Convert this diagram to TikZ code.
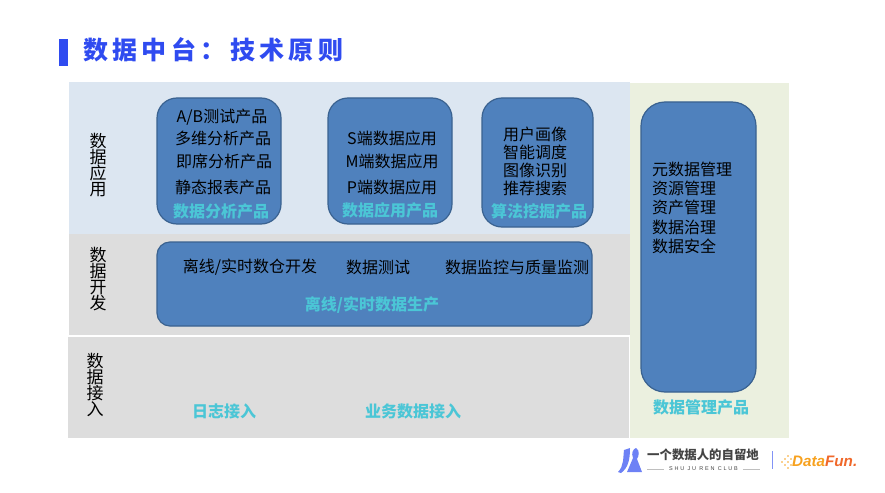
\documentclass[tikz,border=0pt]{standalone}
\usepackage{fontspec}
\setmainfont{Noto Sans CJK SC}
\newfontfamily\titlefont[LetterSpace=17.5]{Noto Sans CJK SC}
\newfontfamily\clubfont[LetterSpace=32]{Liberation Sans}
\newfontfamily\funfont{Liberation Sans}
\definecolor{barblue}{HTML}{2F4BF0}
\definecolor{panelblue}{HTML}{DCE6F1}
\definecolor{panelgray}{HTML}{DDDDDD}
\definecolor{panelgreen}{HTML}{EBF0DF}
\definecolor{boxblue}{HTML}{4F81BD}
\definecolor{boxedge}{HTML}{3A6290}
\definecolor{prodcyan}{HTML}{4BC6D6}
\definecolor{logogray}{HTML}{444444}
\definecolor{funorange}{HTML}{F7A11E}
\definecolor{funred}{HTML}{F0682A}
\tikzset{
	appbox/.style={draw=boxedge,line width=1.2pt,fill=boxblue},
	itemtext/.style={inner sep=0pt,text=black,font=\fontsize{16}{18}\selectfont},
	prodtext/.style={inner sep=0pt,text=prodcyan,font=\fontsize{16}{18}\selectfont\bfseries},
	sidetext/.style={inner sep=0pt,align=center,text=black,font=\fontsize{17}{16}\selectfont},
}
\begin{document}
\begin{tikzpicture}[x=1pt,y=-1pt]
		\useasboundingbox (0,0) rectangle (885,492);
		\fill[barblue] (59,39) rectangle (68,66);
		\node[inner sep=0pt,anchor=west,text=barblue,font=\titlefont\fontsize{25}{28}\selectfont\bfseries](title) at (83,50) {数据中台：技术原则};
		\fill[panelblue] (69,82) rectangle (630,234);
		\fill[panelgray] (69,234) rectangle (630,335);
		\fill[panelgray] (68,337) rectangle (629,438);
		\fill[panelgreen] (630,83) rectangle (789,438);
		\draw[appbox,rounded corners=20pt] (157,98) rectangle (281,224);
		\draw[appbox,rounded corners=20pt] (328,98) rectangle (452,224);
		\draw[appbox,rounded corners=20pt] (482,98) rectangle (593,227);
		\draw[appbox,rounded corners=13pt] (157,242) rectangle (592,326);
		\draw[appbox,rounded corners=24pt] (641,102) rectangle (756,392);
		\node[sidetext](appside) at (98,165) {数\\据\\应\\用};
		\node[sidetext](devside) at (98,279) {数\\据\\开\\发};
		\node[sidetext](inside) at (95,385) {数\\据\\接\\入};
		\node[itemtext](abtest) at (222,117) {A/B测试产品};
		\node[itemtext](multi) at (223,138) {多维分析产品};
		\node[itemtext](adhoc) at (224,161) {即席分析产品};
		\node[itemtext](report) at (223,187) {静态报表产品};
		\node[prodtext](analysis) at (221,211) {数据分析产品};
		\node[itemtext](sapp) at (392,138) {S端数据应用};
		\node[itemtext](mapp) at (392,161) {M端数据应用};
		\node[itemtext](papp) at (392,187) {P端数据应用};
		\node[prodtext](dataapp) at (390,210) {数据应用产品};
		\node[itemtext](portrait) at (535,134) {用户画像};
		\node[itemtext](schedule) at (535,152) {智能调度};
		\node[itemtext](imagerec) at (535,170) {图像识别};
		\node[itemtext](search) at (535,188) {推荐搜索};
		\node[prodtext](algo) at (539,211) {算法挖掘产品};
		\node[itemtext](warehouse) at (250,267) {离线/实时数仓开发};
		\node[itemtext](datatest) at (378,267) {数据测试};
		\node[itemtext](monitor) at (517,267) {数据监控与质量监测};
		\node[prodtext](produce) at (372,305) {离线/实时数据生产};
		\node[prodtext](logs) at (224,411) {日志接入};
		\node[prodtext](bizdata) at (413,411) {业务数据接入};
		\node[itemtext,anchor=west](metadata) at (652,169) {元数据管理};
		\node[itemtext,anchor=west](resource) at (652,188) {资源管理};
		\node[itemtext,anchor=west](asset) at (652,207) {资产管理};
		\node[itemtext,anchor=west](govern) at (652,227) {数据治理};
		\node[itemtext,anchor=west](security) at (652,246) {数据安全};
		\node[prodtext](manage) at (701,407) {数据管理产品};
		\fill[barblue!70!white] (618,472) .. controls (624,466) and (623,458) .. (624,450) -- (630,448) .. controls (630,460) and (628,468) .. (621,473) -- cycle;
		\fill[barblue!70!white] (627,472) -- (633,458) .. controls (631,453) and (633,449) .. (636,448) .. controls (640,450) and (639,456) .. (637,459) -- (642,472) -- cycle;
		\node[inner sep=0pt,anchor=west,text=logogray,font=\fontsize{12.4}{14}\selectfont\bfseries](clubname) at (647,455) {一个数据人的自留地};
		\node[inner sep=0pt,text=logogray,font=\clubfont\fontsize{5.5}{6}\selectfont](clubsub) at (703.5,469) {SHU JU REN CLUB};
		\draw[gray!50,line width=0.4pt] (647,469) -- ([xshift=-5pt]clubsub.west);
		\draw[gray!50,line width=0.4pt] ([xshift=5pt]clubsub.east) -- (760,469);
		\draw[barblue!60!white,line width=0.8pt] (772,451) -- (772,469);
		\foreach \x/\y in {782/462,785/459,785/465,788/456,788/462,788/468,791/459,791/465}
			\fill[funorange] (\x,\y) circle (0.9pt);
		\node[inner sep=0pt,anchor=west,text=funorange,font=\funfont\fontsize{15.2}{17}\selectfont\bfseries\itshape](datafun) at (792,461) {Data\textcolor{funred}{Fun.}};
\end{tikzpicture}
\end{document}
